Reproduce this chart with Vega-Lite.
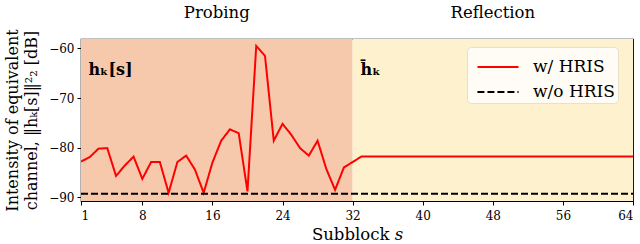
{
  "$schema": "https://vega.github.io/schema/vega-lite/v6.json",
  "width": 552,
  "height": 162,
  "autosize": "none",
  "padding": {"left": 81, "top": 39, "right": 7, "bottom": 43},
  "background": "white",
  "config": {
    "font": "DejaVu Serif",
    "view": {"stroke": "black", "strokeWidth": 1.2},
    "axis": {"labelFont": "DejaVu Serif", "titleFont": "DejaVu Serif", "labelColor": "black", "titleColor": "black", "domainColor": "black", "tickColor": "black", "grid": false, "titleFontWeight": "normal"}
  },
  "datasets": {
    "regions": [
      {"phase": "Probing", "start": 1, "end": 32, "mid": 16.5},
      {"phase": "Reflection", "start": 32, "end": 64, "mid": 48}
    ],
    "series": [
      {"s": 1, "db": -82.8, "c": "w/ HRIS"},
      {"s": 2, "db": -81.9, "c": "w/ HRIS"},
      {"s": 3, "db": -80.2, "c": "w/ HRIS"},
      {"s": 4, "db": -80.1, "c": "w/ HRIS"},
      {"s": 5, "db": -85.7, "c": "w/ HRIS"},
      {"s": 6, "db": -83.6, "c": "w/ HRIS"},
      {"s": 7, "db": -81.8, "c": "w/ HRIS"},
      {"s": 8, "db": -86.3, "c": "w/ HRIS"},
      {"s": 9, "db": -82.9, "c": "w/ HRIS"},
      {"s": 10, "db": -82.9, "c": "w/ HRIS"},
      {"s": 11, "db": -89.1, "c": "w/ HRIS"},
      {"s": 12, "db": -82.9, "c": "w/ HRIS"},
      {"s": 13, "db": -81.6, "c": "w/ HRIS"},
      {"s": 14, "db": -84.4, "c": "w/ HRIS"},
      {"s": 15, "db": -89.1, "c": "w/ HRIS"},
      {"s": 16, "db": -83.0, "c": "w/ HRIS"},
      {"s": 17, "db": -78.6, "c": "w/ HRIS"},
      {"s": 18, "db": -76.3, "c": "w/ HRIS"},
      {"s": 19, "db": -77.1, "c": "w/ HRIS"},
      {"s": 20, "db": -88.8, "c": "w/ HRIS"},
      {"s": 21, "db": -59.5, "c": "w/ HRIS"},
      {"s": 22, "db": -61.5, "c": "w/ HRIS"},
      {"s": 23, "db": -78.6, "c": "w/ HRIS"},
      {"s": 24, "db": -75.2, "c": "w/ HRIS"},
      {"s": 25, "db": -77.4, "c": "w/ HRIS"},
      {"s": 26, "db": -80.1, "c": "w/ HRIS"},
      {"s": 27, "db": -81.6, "c": "w/ HRIS"},
      {"s": 28, "db": -78.6, "c": "w/ HRIS"},
      {"s": 29, "db": -84.3, "c": "w/ HRIS"},
      {"s": 30, "db": -88.5, "c": "w/ HRIS"},
      {"s": 31, "db": -84.0, "c": "w/ HRIS"},
      {"s": 32, "db": -82.9, "c": "w/ HRIS"},
      {"s": 33, "db": -81.8, "c": "w/ HRIS"},
      {"s": 34, "db": -81.8, "c": "w/ HRIS"},
      {"s": 35, "db": -81.8, "c": "w/ HRIS"},
      {"s": 36, "db": -81.8, "c": "w/ HRIS"},
      {"s": 37, "db": -81.8, "c": "w/ HRIS"},
      {"s": 38, "db": -81.8, "c": "w/ HRIS"},
      {"s": 39, "db": -81.8, "c": "w/ HRIS"},
      {"s": 40, "db": -81.8, "c": "w/ HRIS"},
      {"s": 41, "db": -81.8, "c": "w/ HRIS"},
      {"s": 42, "db": -81.8, "c": "w/ HRIS"},
      {"s": 43, "db": -81.8, "c": "w/ HRIS"},
      {"s": 44, "db": -81.8, "c": "w/ HRIS"},
      {"s": 45, "db": -81.8, "c": "w/ HRIS"},
      {"s": 46, "db": -81.8, "c": "w/ HRIS"},
      {"s": 47, "db": -81.8, "c": "w/ HRIS"},
      {"s": 48, "db": -81.8, "c": "w/ HRIS"},
      {"s": 49, "db": -81.8, "c": "w/ HRIS"},
      {"s": 50, "db": -81.8, "c": "w/ HRIS"},
      {"s": 51, "db": -81.8, "c": "w/ HRIS"},
      {"s": 52, "db": -81.8, "c": "w/ HRIS"},
      {"s": 53, "db": -81.8, "c": "w/ HRIS"},
      {"s": 54, "db": -81.8, "c": "w/ HRIS"},
      {"s": 55, "db": -81.8, "c": "w/ HRIS"},
      {"s": 56, "db": -81.8, "c": "w/ HRIS"},
      {"s": 57, "db": -81.8, "c": "w/ HRIS"},
      {"s": 58, "db": -81.8, "c": "w/ HRIS"},
      {"s": 59, "db": -81.8, "c": "w/ HRIS"},
      {"s": 60, "db": -81.8, "c": "w/ HRIS"},
      {"s": 61, "db": -81.8, "c": "w/ HRIS"},
      {"s": 62, "db": -81.8, "c": "w/ HRIS"},
      {"s": 63, "db": -81.8, "c": "w/ HRIS"},
      {"s": 64, "db": -81.8, "c": "w/ HRIS"},
      {"s": 1, "db": -89.3, "c": "w/o HRIS"},
      {"s": 64, "db": -89.3, "c": "w/o HRIS"}
    ],
    "labels": [
      {"s": 16.5, "db": -52.9, "t": "Probing"},
      {"s": 48, "db": -52.9, "t": "Reflection"}
    ],
    "annot": [
      {"s": 1.85, "db": -64.3, "t": "hₖ[s]"},
      {"s": 32.9, "db": -64.3, "t": "h̄ₖ"}
    ]
  },
  "layer": [
    {
      "data": {"name": "regions"},
      "mark": {"type": "rect", "opacity": 1},
      "encoding": {
        "x": {"field": "start", "type": "quantitative", "scale": {"domain": [1, 64], "nice": false, "zero": false},
          "axis": {"values": [1, 8, 16, 24, 32, 40, 48, 56, 64], "labelFontSize": 12, "tickSize": 4, "labelPadding": 5, "title": "Subblock 𝑠", "titleFontSize": 16.5, "titlePadding": 5}},
        "x2": {"field": "end"},
        "color": {"field": "phase", "type": "nominal", "scale": {"domain": ["Probing", "Reflection"], "range": ["#F6C9AD", "#FEF2CE"]}, "legend": null}
      }
    },
    {
      "data": {"name": "series"},
      "mark": {"type": "line", "strokeWidth": 2, "clip": true},
      "encoding": {
        "x": {"field": "s", "type": "quantitative"},
        "y": {"field": "db", "type": "quantitative", "scale": {"domain": [-90.75, -58.1], "nice": false, "zero": false},
          "axis": {"values": [-60, -70, -80, -90], "labelFontSize": 12, "tickSize": 4, "labelPadding": 3, "title": ["Intensity of equivalent", "channel, ‖hₖ[s]‖²₂ [dB]"], "titleFontSize": 16, "titlePadding": 9, "titleLineHeight": 19}},
        "stroke": {"field": "c", "type": "nominal", "scale": {"domain": ["w/ HRIS", "w/o HRIS"], "range": ["#FF0000", "black"]},
          "legend": {"orient": "none", "legendX": 386, "legendY": 8, "title": null, "symbolType": "M-1.3,0H1.3", "symbolSize": 1000, "symbolOffset": 11, "symbolStrokeWidth": 2, "symbolFillColor": "transparent", "labelFontSize": 17, "labelFont": "DejaVu Serif", "labelColor": "black", "rowPadding": -3.6, "labelOffset": 18, "fillColor": "#FFFCF5", "strokeColor": "#E6E0D0", "cornerRadius": 4, "padding": 3}},
        "strokeDash": {"field": "c", "type": "nominal", "scale": {"domain": ["w/ HRIS", "w/o HRIS"], "range": [[1, 0], [7, 3]]}, "legend": null}
      }
    },
    {
      "data": {"name": "labels"},
      "mark": {"type": "text", "fontSize": 16.5, "font": "DejaVu Serif", "color": "black", "baseline": "middle", "align": "center"},
      "encoding": {
        "x": {"field": "s", "type": "quantitative"},
        "y": {"field": "db", "type": "quantitative"},
        "text": {"field": "t"}
      }
    },
    {
      "data": {"name": "annot"},
      "mark": {"type": "text", "fontSize": 16, "font": "DejaVu Serif", "fontWeight": "bold", "color": "black", "baseline": "middle", "align": "left"},
      "encoding": {
        "x": {"field": "s", "type": "quantitative"},
        "y": {"field": "db", "type": "quantitative"},
        "text": {"field": "t"}
      }
    }
  ]
}
